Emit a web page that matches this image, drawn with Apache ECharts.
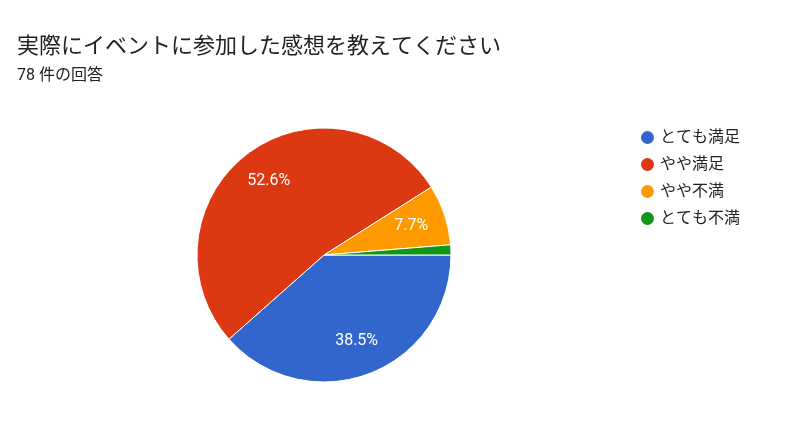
<!DOCTYPE html>
<html>
<head>
<meta charset="utf-8">
<script src="https://cdn.jsdelivr.net/npm/echarts@6/dist/echarts.min.js"></script>
<style>
html,body{margin:0;padding:0;background:#fff;}
#main{width:800px;height:426px;}
</style>
</head>
<body>
<div id="main"></div>
<script>
var categories = ['とても満足', 'やや満足', 'やや不満', 'とても不満'];
var counts = [30, 41, 6, 1];
var colors = ['#3366cc', '#dc3912', '#ff9900', '#109618'];

var font = 'Roboto, "Noto Sans CJK JP", sans-serif';
var myChart = echarts.init(document.getElementById('main'));
var total = counts.reduce(function (a, b) { return a + b; }, 0);

var pieData = categories.map(function (name, i) {
    return { name: name, value: counts[i], itemStyle: { color: colors[i] } };
});

var option = {
    animation: false,
    textStyle: { fontFamily: font },
    title: {
        text: '実際にイベントに参加した感想を教えてください',
        subtext: '78 件の回答',
        left: 12,
        top: 31,
        itemGap: 10,
        textStyle: { fontFamily: font, fontSize: 22, fontWeight: 'normal', color: '#202124' },
        subtextStyle: { fontFamily: font, fontSize: 16, color: '#202124' }
    },
    legend: {
        orient: 'vertical',
        left: 634,
        top: 124,
        icon: 'circle',
        itemWidth: 15,
        itemHeight: 15,
        itemGap: 10,
        data: categories,
        textStyle: { fontFamily: font, fontSize: 16, color: '#222' }
    },
    series: [
        {
            type: 'pie',
            center: [324, 255],
            radius: [0, 127],
            startAngle: 0,
            clockwise: true,
            label: { show: false },
            labelLine: { show: false },
            emphasis: { scale: false },
            itemStyle: { borderColor: '#fff', borderWidth: 1 },
            data: pieData
        },
        {
            // 透明な輪でラベル位置を外寄りに
            type: 'pie',
            center: [324, 255],
            radius: [51, 127],
            startAngle: 0,
            clockwise: true,
            silent: true,
            minShowLabelAngle: 10,
            label: {
                show: true,
                position: 'inside',
                formatter: function (p) {
                    return (p.value / total * 100).toFixed(1) + '%';
                },
                color: '#fff',
                fontSize: 16,
                fontFamily: font
            },
            labelLine: { show: false },
            itemStyle: { color: 'rgba(0,0,0,0)', borderWidth: 0 },
            data: categories.map(function (name, i) {
                return { name: name, value: counts[i] };
            })
        }
    ]
};
myChart.setOption(option);
</script>
</body>
</html>
